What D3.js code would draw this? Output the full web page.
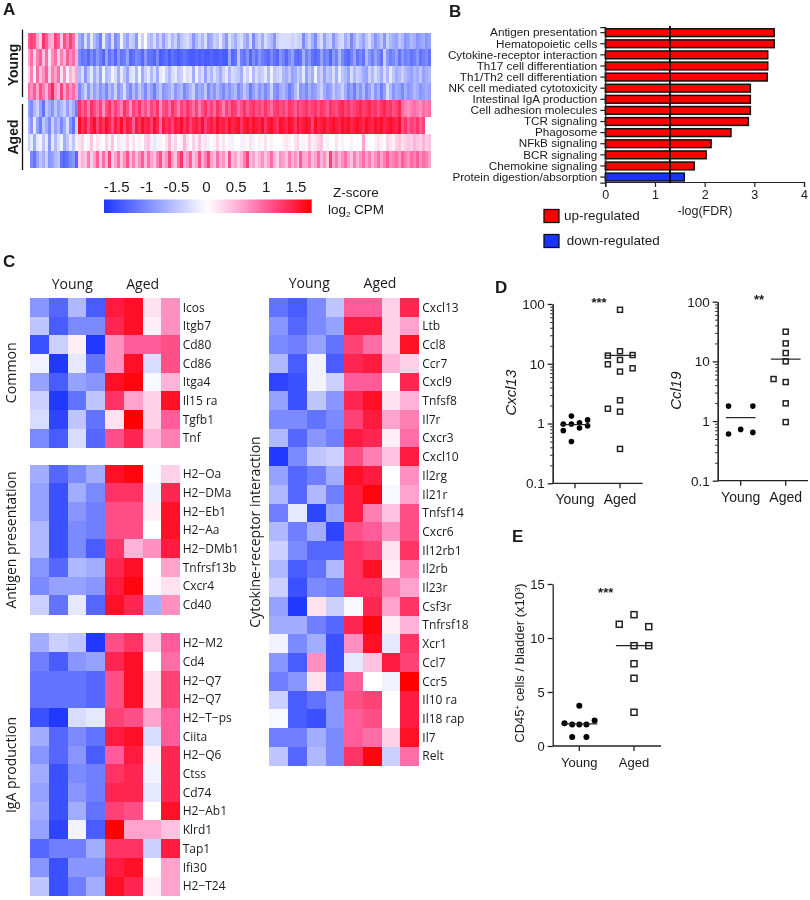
<!DOCTYPE html>
<html><head><meta charset="utf-8">
<script src="https://cdn.jsdelivr.net/npm/d3@7"></script>
<style>
html,body{margin:0;padding:0;background:#fff}
svg{display:block;filter:blur(0.35px)}
text{fill:#1a1a1a}
.ar{font-family:"Liberation Sans",Arial,sans-serif}
.my{font-family:"Open Sans",sans-serif}
</style></head><body>
<svg id="c" width="810" height="900"></svg>
<script>
// ---------- Panel A : z-scores x10, eight samples ----------
const aRowNames=["Young 1","Young 2","Young 3","Young 4","Aged 1","Aged 2","Aged 3","Aged 4"];
const aY1=[10,12,11,6,3,13,10,6,5,12,10,4,11,8,12,9,3,
-7,-9,-3,-8,-2,-6,-8,-11,-2,-7,-9,-3,-10,-8,-1,-6,-8,-4,-5,-9,-1,-4,0,-5,-6,-3,-7,-4,-8,-5,
-3,-6,-4,-8,-5,-4,-3,-5,-9,-6,-4,-6,-3,-8,-7,-4,-5,-2,-6,-9,-3,-5,-7,-4,-3,-6,-8,-3,-10,-6,
-4,-7,-3,-5,-6,-9,-4,-3,-3,-3,-3,-4,-3,-4,-4,-10,-6,-4,-7,-10,-5,-3,-8,-5,-4,-9,-6,-4,-3,-7,
-5,-10,-7,-4,-6,-8,-5,-3,-6,-9,-7,-5,-9,-4,-6,-7,-8,-5,-6,-9,-8,-6,-7,-9,-8,-7,-9,-8];
const aY2=[6,9,3,8,10,4,9,2,7,9,3,8,5,10,7,9,5,
-10,-12,-11,-13,-10,-12,-9,-11,-13,-8,-12,-10,-13,-9,-12,-11,-8,-13,-12,-10,-11,-13,-9,-12,-12,-13,-10,-14,-13,-12,
-14,-12,-13,-14,-13,-12,-13,-14,-14,-13,-14,-13,-14,-14,-13,-14,-14,-13,-14,-14,-8,-13,-12,-5,-11,-12,-9,-13,-10,-12,
-9,-11,-12,-13,-10,-12,-13,-9,-11,-13,-10,-8,-12,-13,-12,-7,-11,-9,-12,-13,-12,-8,-11,-10,-13,-9,-11,-6,-10,-12,
-13,-11,-8,-12,-10,-12,-6,-9,-11,-8,-10,-12,-4,-9,-11,-10,-8,-12,-9,-11,-10,-12,-11,-9,-12,-11,-10,-12];
const aY3=[3,8,1,9,4,7,10,3,8,6,9,2,7,1,5,3,6,
-6,-3,-9,-5,-2,-7,-4,-8,-1,-6,-5,-1,-3,-7,-2,-5,-8,-3,-2,-6,-1,-7,-4,-2,-6,-3,-7,-2,-1,-4,
-6,-3,-2,-5,-4,-1,-3,-2,-7,-1,-5,-3,-8,-4,-6,-3,-5,-7,-4,-2,-6,-3,-4,-5,-7,-2,-4,-1,-6,-3,
-5,-4,-2,-6,-1,-5,-4,-3,-6,-7,-5,-8,-7,-4,-6,-2,-8,-5,-7,-1,-6,-4,-8,-5,-6,-3,-7,-2,-5,-6,
-8,-3,-6,-4,-5,-7,-8,-4,-6,-3,-5,-7,-3,-6,-2,-5,-7,-6,-4,-6,-7,-8,-6,-7,-5,-8,-7,-6];
const aY4=[9,7,10,6,11,8,5,10,14,7,5,12,6,10,7,9,6,
-10,-7,-4,-9,-5,-8,-6,-9,-7,-10,-6,-8,-4,-9,-7,-3,-8,-10,-6,-9,-5,-7,-10,-6,-8,-11,-7,-5,-9,-8,
-7,-5,-9,-7,-6,-10,-8,-6,-4,-9,-7,-8,-5,-10,-7,-9,-6,-8,-10,-7,-9,-7,-6,-10,-8,-5,-7,-11,-8,-6,
-9,-7,-10,-8,-4,-9,-10,-7,-6,-8,-11,-9,-6,-3,-9,-8,-10,-7,-9,-8,-6,-4,-7,-9,-8,-5,-7,-6,-4,-7,
-10,-8,-11,-7,-9,-6,-10,-8,-5,-9,-7,-11,-8,-3,-6,-9,-7,-8,-10,-7,-9,-8,-6,-7,-9,-8,-7,-8];
const aA1=[-8,-10,-6,-4,-8,-12,-5,-7,-9,-5,-8,-6,-4,-8,-5,-7,-11,
13,10,12,8,13,11,9,12,7,11,13,9,12,10,8,13,11,7,12,10,13,9,11,8,12,10,13,7,11,12,
9,13,11,8,12,10,13,11,9,12,8,11,13,10,12,9,13,11,8,12,10,13,12,9,11,13,10,12,13,11,
12,10,13,11,9,12,13,11,12,10,13,12,10,13,11,12,13,11,12,13,11,13,12,10,13,12,11,13,14,12,
13,11,12,13,14,12,13,14,12,13,11,13,14,12,13,11,12,14,9,8,7,8,9,8,7,9,8,9];
const aA2=[-6,-9,-2,-8,-11,-5,-7,-10,-4,-8,-6,-10,-7,-3,-9,-12,-4,
16,13,15,11,14,16,12,15,13,16,14,11,15,13,16,12,15,14,10,15,13,16,14,15,12,16,14,9,15,13,
14,12,15,14,16,13,15,12,14,15,13,16,12,14,15,13,16,14,15,13,16,14,15,16,13,15,16,14,16,15,
14,16,13,15,16,14,13,16,15,14,16,15,13,16,14,15,16,15,12,16,14,15,16,14,15,16,15,14,16,15,
16,14,15,16,15,14,16,15,14,16,15,16,14,15,16,15,14,16,11,13,10,12,11,13,10,12];
const aA3=[-4,-2,-7,-2,-1,-5,-2,-9,-2,-6,-3,-1,-7,-5,-2,-5,-1,
2,3,0,1,4,0,2,1,0,3,1,4,0,2,-1,1,3,0,2,0,1,0,3,4,1,-2,-1,1,0,2,
5,1,3,0,1,5,2,0,3,1,4,1,2,-1,0,1,3,0,2,0,1,-1,0,0,-1,1,0,2,-1,0,
1,0,2,0,1,0,0,0,1,2,1,0,2,3,0,1,0,3,1,2,3,4,0,1,0,0,2,0,1,0,
0,1,0,0,0,6,1,0,0,1,2,1,0,3,2,1,3,4,2,3,4,3,5,4,3,5,3,4];
const aA4=[0,-10,-12,-8,-5,-7,-4,-9,-8,-6,-5,-12,-13,-12,-10,-9,-13,
3,5,4,8,3,6,10,4,9,5,12,3,6,9,4,7,11,5,8,4,7,10,5,9,6,4,8,11,5,7,
12,6,4,9,13,5,7,10,4,6,11,5,8,12,6,4,9,5,7,3,11,4,6,3,5,8,12,4,6,3,
5,7,4,6,9,5,3,7,6,4,8,5,7,4,10,6,5,8,4,6,9,5,7,4,12,6,8,5,7,9,
6,4,8,5,7,9,6,8,5,7,9,6,8,10,7,8,9,7,10,8,7,9,8,10,7,9,8,6];

const zTicks=[-1.5,-1,-0.5,0,0.5,1,1.5];
const zTickLabels=["-1.5","-1","-0.5","0","0.5","1","1.5"];

// ---------- Panel B ----------
const pathways=["Antigen presentation","Hematopoietic cells","Cytokine-receptor interaction","Th17 cell differentiation","Th1/Th2 cell differentiation","NK cell mediated cytotoxicity","Intestinal IgA production","Cell adhesion molecules","TCR signaling","Phagosome","NFkB signaling","BCR signaling","Chemokine signaling","Protein digestion/absorption"];
const pathwayFDR=[3.4,3.4,3.27,3.27,3.26,2.92,2.92,2.92,2.88,2.53,2.13,2.03,1.79,1.59];
const pathwayDir=["up","up","up","up","up","up","up","up","up","up","up","up","up","down"];
const fdrThreshold=1.3;

// ---------- Panel C : z-scores x10, eight samples per gene ----------
const commonGenes=["Icos","Itgb7","Cd80","Cd86","Itga4","Il15 ra","Tgfb1","Tnf"];
const commonZ=[[-9,-13,-6,-14,15,16,2,7],[-5,-14,-10,-10,14,16,1,7],[-15,-4,1,-17,7,10,10,11],[-1,-17,-2,-12,7,16,-3,11],[-8,-14,-8,-9,16,17,-.5,5],[-4,-17,-12,-5,13,6,3,16],[-3,-16,-5,-12,2,17.5,3,10],[-10,-14,-3,-13,11,14,5,8]];
const antigenGenes=["H2−Oa","H2−DMa","H2−Eb1","H2−Aa","H2−DMb1","Tnfrsf13b","Cxcr4","Cd40"];
const antigenZ=[[-7,-13,-10,-7,16,17,-.3,3],[-8,-15,-7,-10,13,13,-1,14],[-8,-15,-9,-11,11,11,1,16],[-6,-15,-10,-11,11,11,0,16],[-6,-15,-10,-14,13,5,7,15],[-9,-13,-6,-7,14,16,0,6],[-10,-8,-8,-9,15,17,.3,2],[-4,-12,-2,-13,16,14,-7,7]];
const igaGenes=["H2−M2","Cd4","H2−Q7","H2−Q7","H2−T−ps","Ciita","H2−Q6","Ctss","Cd74","H2−Ab1","Klrd1","Tap1","Ifi30","H2−T24"];
const igaZ=[[-7,-4,-5,-17,11,13,3,10],[-11,-14,-9,-8,14,16,0,9],[-12,-12,-12,-13,11,16,2,12],[-12,-12,-12,-13,11,16,2,12],[-15,-17,-3,-2,12,11,6,10],[-7,-13,-10,-12,15,16,-3,10],[-9,-13,-9,-14,10,15,1,14],[-7,-15,-10,-11,13,14,-1,14],[-8,-15,-9,-11,14,14,-2,14],[-7,-15,-7,-12,12,11,0,16],[-8,-16,-1,-14,17.5,6,6,4],[-13,-11,-11,-7,13,13,-4,15],[-9,-15,-9,-9,15,16,0,6],[-5,-15,-11,-7,16,14,1,6]];
const cytoGenes=["Cxcl13","Ltb","Ccl8","Ccr7","Cxcl9","Tnfsf8","Il7r","Cxcr3","Cxcl10","Il2rg","Il21r","Tnfsf14","Cxcr6","Il12rb1","Il2rb","Il23r","Csf3r","Tnfrsf18","Xcr1","Ccl7","Ccr5","Il10 ra","Il18 rap","Il7","Relt"];
const cytoZ=[[-12,-14,-10,-5,10,10,3,14],[-9,-13,-10,-8,15,15,3,6],[-10,-11,-8,-12,12,9,3,16],[-6,-14,-1,-14,14,15,5,3],[-16,-15,-1,-4,10,10,0,14],[-8,-15,-5,-9,14,16,2,5],[-10,-10,-12,-10,12,15,6,8],[-6,-13,-9,-11,15,14,1,9],[-17,-10,-5,-4,11,8,4,15],[-8,-13,-11,-7,16,15,0,7],[-6,-13,-6,-11,15,17,-.5,6],[-11,-2,-16,-8,15,8,4,11],[-6,-11,-7,-16,11,10,7,11],[-4,-10,-13,-13,13,12,2,13],[-6,-14,-12,-6,13,16,1,8],[-4,-15,-10,-11,13,13,8,6],[-8,-17,2,-4,-.5,14,6,13],[-7,-7,-11,-13,14,17,1,5],[-1,-10,-7,-15,7,16,-2,13],[-9,-14,7,-15,-2,4,15,12],[-11,-9,2,-13,10,0,-1,17.5],[-4,-14,-12,-9,11,12,0,15],[-.5,-14,-15,-9,10,11,0,15],[-11,-11,-7,-10,10,9,3,16],[-5,-13,-6,-10,13,17,-4,9]];

// ---------- Panels D, E : value + horizontal offset in group widths ----------
const cxcl13Young=[.98,1.34,1.03,1.15,.76,.50,.84,.92,.98];
const cxcl13YoungOff=[-.26,-.08,.1,.28,-.26,-.08,.1,.28,-.08];
const cxcl13Aged=[80,16.2,13.7,14,11.6,9.8,7.4,8.4,2.45,1.77,1.58,.376];
const cxcl13AgedOff=[0,0,-.27,.28,0,-.27,0,.28,0,-.27,0,0];
const cxcl13Median=[.96,13.8];
const ccl19Young=[1.78,1.78,.605,.724,.645];
const ccl19YoungOff=[-.27,.27,-.27,0,.27];
const ccl19Aged=[31.4,20,13.8,10,5.06,4.5,1.98,.96];
const ccl19AgedOff=[0,0,0,0,-.27,0,0,0];
const ccl19Median=[1.14,10.9];
const cd45Young=[3.73,2.1,2,2,2,2.35,.83,.83];
const cd45YoungOff=[0,-.27,-.13,0,.13,.28,-.13,.13];
const cd45Aged=[11.27,12.16,11.05,9.29,9.29,7.62,6.27,3.12];
const cd45AgedOff=[-.27,0,.27,0,.27,0,0,0];
const cd45Median=[2.05,9.3];
const groups=["Young","Aged"];

// ---------- scales shared ----------
const color=d3.scaleLinear().domain([-1.75,0,.5,1,1.5,1.75])
  .range(["#1a33ff","#ffffff","#ffb3d9","#ff5c99","#ff1a40","#ff0000"]).clamp(true);
const svg=d3.select("#c");
const INK="#1a1a1a";

function txt(g,x,y,s,size,cls,anchor,extra){
  const t=g.append("text").attr("x",x).attr("y",y).attr("class",cls||"ar")
    .attr("font-size",size).attr("text-anchor",anchor||"start").text(s);
  if(extra) extra(t);
  return t;
}
function rot(x,y,s,size,cls,extra){
  const t=svg.append("text").attr("transform",`translate(${x},${y}) rotate(-90)`)
    .attr("class",cls||"ar").attr("font-size",size).attr("text-anchor","middle").text(s);
  if(extra) extra(t);
  return t;
}
// panel letters
[["A",3,15],["B",449,17],["C",3,267],["D",495,293],["E",512,542]].forEach(d=>
  txt(svg,d[1],d[2],d[0],17,"ar","start",t=>t.attr("font-weight","bold")));

// ---------- A ----------
(function(){
  const rows=[aY1,aY2,aY3,aY4,aA1,aA2,aA3,aA4];
  const x=d3.scaleBand().domain(d3.range(rows[0].length)).range([27.5,431]);
  const y=d3.scaleBand().domain(aRowNames).range([32.5,167.5]);
  const g=svg.append("g").attr("shape-rendering","crispEdges");
  rows.forEach((r,i)=>g.append("g").selectAll("rect").data(r).join("rect")
    .attr("x",(d,j)=>x(j)).attr("y",y(aRowNames[i])).attr("width",x.bandwidth()+.3).attr("height",y.bandwidth())
    .attr("fill",d=>color(d/10)));
  [[29.7,97],[104,170]].forEach(e=>svg.append("line").attr("x1",22.5).attr("x2",22.5).attr("y1",e[0]).attr("y2",e[1]).attr("stroke","#111").attr("stroke-width",1.3));
  rot(18,65,"Young",14,"ar",t=>t.attr("font-weight","bold"));
  rot(18,137,"Aged",14,"ar",t=>t.attr("font-weight","bold"));
  // colour bar
  const cx=d3.scaleLinear().domain([-1.5,1.5]).range([116.7,296]);
  const grad=svg.append("defs").append("linearGradient").attr("id","zg");
  const lo=cx.invert(104),hi=cx.invert(311.7);
  d3.range(0,21).forEach(i=>{const v=lo+(hi-lo)*i/20;
    grad.append("stop").attr("offset",(i*5)+"%").attr("stop-color",color(v));});
  svg.append("rect").attr("x",cx(lo)).attr("width",cx(hi)-cx(lo)).attr("y",199.5).attr("height",13.5).attr("fill","url(#zg)");
  zTicks.forEach((v,i)=>txt(svg,cx(v),192,zTickLabels[i],15,"ar","middle"));
  txt(svg,356,197,"Z-score",13.5,"ar","middle");
  const l=txt(svg,356,214,"log",13.5,"ar","middle");
  l.append("tspan").attr("font-size",8).attr("dy",3).text("2");
  l.append("tspan").attr("dy",-3).text(" CPM");
})();

// ---------- B ----------
(function(){
  const x=d3.scaleLinear().domain([0,4]).range([605.3,804]);
  const y=d3.scaleBand().domain(pathways).range([27.1,182.6]).paddingInner(.3).paddingOuter(.15);
  const g=svg.append("g");
  g.selectAll("rect").data(pathways).join("rect")
    .attr("x",x(0)).attr("y",d=>y(d)).attr("height",y.bandwidth())
    .attr("width",(d,i)=>x(pathwayFDR[i])-x(0))
    .attr("fill",(d,i)=>pathwayDir[i]==="up"?"#ff0000":"#1a33ff")
    .attr("stroke","#111").attr("stroke-width",1.5);
  const ax=svg.append("g").attr("transform","translate(0,182)").call(d3.axisBottom(x).tickValues([0,1,2,3,4]).tickFormat(d3.format("d")).tickSize(5));
  ax.selectAll("text").attr("class","ar").attr("font-size",12.5).attr("dy",".75em").style("fill",INK);
  const ay=svg.append("g").attr("transform","translate(605.3,0)").call(d3.axisLeft(y).tickSize(5));
  ay.selectAll("text").attr("class","ar").attr("font-size",11.7).style("fill",INK);
  ax.selectAll("path,line").attr("stroke","#222").attr("stroke-width",1.2);
  ay.selectAll("path,line").attr("stroke","#222").attr("stroke-width",1.2);
  svg.append("line").attr("x1",x(fdrThreshold)).attr("x2",x(fdrThreshold)).attr("y1",26).attr("y2",183).attr("stroke","#000").attr("stroke-width",1.8);
  txt(svg,705,215,"-log(FDR)",12.5,"ar","middle");
  [["#ff0000",209.5,"up-regulated",564,220],["#1a33ff",234.5,"down-regulated",566.7,244.5]].forEach(d=>{
    svg.append("rect").attr("x",544).attr("y",d[1]).attr("width",15).attr("height",13).attr("fill",d[0]).attr("stroke","#111").attr("stroke-width",1.3);
    txt(svg,d[3],d[4],d[2],13.5);
  });
})();

// ---------- C ----------
function heat(genes,z,x0,y0,labelX){
  const cols=d3.range(8);
  const x=d3.scaleBand().domain(cols).range([x0,x0+149.6]);
  const y=d3.scaleBand().domain(d3.range(genes.length)).range([y0,y0+genes.length*18.7]);
  const g=svg.append("g");
  z.forEach((r,i)=>g.append("g").attr("shape-rendering","crispEdges").selectAll("rect").data(r).join("rect")
    .attr("x",(d,j)=>x(j)).attr("y",y(i)).attr("width",x.bandwidth()+.4).attr("height",y.bandwidth()+.4)
    .attr("fill",d=>color(d/10)));
  genes.forEach((s,i)=>txt(svg,labelX,y(i)+y.bandwidth()/2+4.4,s,12,"my"));
}
heat(commonGenes,commonZ,30.3,297.8,182.7);
heat(antigenGenes,antigenZ,30.3,464.5,182.7);
heat(igaGenes,igaZ,30.3,633.4,182.7);
heat(cytoGenes,cytoZ,269.4,297.8,422.3);
[[72.3,142.7,289.3],[309.3,380,287.7]].forEach(d=>{
  txt(svg,d[0],d[2],"Young",14,"my","middle");
  txt(svg,d[1],d[2],"Aged",14,"my","middle");
});
rot(16,372.7,"Common",14.2,"my");
rot(16,540,"Antigen presentation",14,"my");
rot(16,765,"IgA production",14,"my");
rot(260,532,"Cytokine-receptor interaction",14,"my");

// ---------- D / E ----------
function scatter(o){
  const x=d3.scaleLinear().domain([0,1]).range(o.tick); // group positions
  const y=o.y;
  const xEnd=o.xEnd, x0=o.x0, yB=y.range()[0];
  const ax=svg.append("g").attr("transform",`translate(0,${yB})`);
  ax.append("line").attr("x1",x0).attr("x2",xEnd).attr("y1",0).attr("y2",0).attr("stroke","#222").attr("stroke-width",1.3);
  ax.selectAll("line.t").data([0,1]).join("line").attr("class","t").attr("x1",x).attr("x2",x).attr("y1",0).attr("y2",5).attr("stroke","#222").attr("stroke-width",1.3);
  groups.forEach((s,i)=>txt(svg,x(i),yB+21,s,o.fs||14,"ar","middle"));
  if(o.log){
    const minor=[];[.1,1,10].forEach(p=>d3.range(2,10).forEach(k=>minor.push(p*k)));
    const a1=svg.append("g").attr("transform",`translate(${x0},0)`).call(d3.axisLeft(y).tickValues(minor).tickFormat("").tickSize(2.5).tickSizeOuter(0));
    a1.selectAll("path,line").attr("stroke","#222").attr("stroke-width",1);
    const a2=svg.append("g").attr("transform",`translate(${x0},0)`).call(d3.axisLeft(y).tickValues([.1,1,10,100]).tickFormat(d=>d<1?"0.1":d3.format("d")(d)).tickSize(5).tickSizeOuter(0));
    a2.selectAll("path,line").attr("stroke","#222").attr("stroke-width",1.3);
    a2.selectAll("text").attr("class","ar").attr("font-size",13.5).style("fill",INK);
  } else {
    const a2=svg.append("g").attr("transform",`translate(${x0},0)`).call(d3.axisLeft(y).tickValues([0,5,10,15]).tickSize(5).tickSizeOuter(0));
    a2.selectAll("path,line").attr("stroke","#222").attr("stroke-width",1.3);
    a2.selectAll("text").attr("class","ar").attr("font-size",13).style("fill",INK);
  }
  svg.append("g").selectAll("circle").data(o.young).join("circle")
    .attr("cx",(d,i)=>x(o.youngOff[i])).attr("cy",d=>y(d)).attr("r",o.r).attr("fill","#000");
  svg.append("g").selectAll("rect").data(o.aged).join("rect")
    .attr("x",(d,i)=>x(1+o.agedOff[i])-o.s/2).attr("y",d=>y(d)-o.s/2).attr("width",o.s).attr("height",o.s)
    .attr("fill","#fff").attr("stroke","#222").attr("stroke-width",1.5);
  o.median.forEach((m,i)=>svg.append("line").attr("x1",x(i-o.hw)).attr("x2",x(i+o.hw)).attr("y1",y(m)).attr("y2",y(m)).attr("stroke","#222").attr("stroke-width",1.2));
  txt(svg,o.star[0],o.star[1],o.star[2],13,"ar","middle",t=>t.attr("font-weight","bold"));
}
scatter({log:true,x0:552.7,xEnd:642.7,tick:[575,620],y:d3.scaleLog().domain([.1,100]).range([483.3,304]),
  young:cxcl13Young,youngOff:cxcl13YoungOff,aged:cxcl13Aged,agedOff:cxcl13AgedOff,median:cxcl13Median,
  r:2.8,s:5,hw:.33,star:[599,307,"***"]});
scatter({log:true,x0:717.7,xEnd:808,tick:[740.7,785.7],y:d3.scaleLog().domain([.1,100]).range([480.7,301.7]),
  young:ccl19Young,youngOff:ccl19YoungOff,aged:ccl19Aged,agedOff:ccl19AgedOff,median:ccl19Median,
  r:2.8,s:5,hw:.33,star:[759,304,"**"]});
scatter({log:false,x0:552.7,xEnd:661,tick:[579.3,634],y:d3.scaleLinear().domain([0,15]).range([746,584]),
  young:cd45Young,youngOff:cd45YoungOff,aged:cd45Aged,agedOff:cd45AgedOff,median:cd45Median,
  r:3,s:6,hw:.33,fs:13,star:[605.7,597,"***"]});
rot(516,392.7,"Cxcl13",15,"ar",t=>t.attr("font-style","italic"));
rot(681,390.7,"Ccl19",15,"ar",t=>t.attr("font-style","italic"));
const el=rot(524,663,"CD45",13);
el.append("tspan").attr("font-size",8).attr("dy",-4).text("+");
el.append("tspan").attr("dy",4).text(" cells / bladder (x10");
el.append("tspan").attr("font-size",8).attr("dy",-4).text("3");
el.append("tspan").attr("dy",4).text(")");
</script>
</body></html>
